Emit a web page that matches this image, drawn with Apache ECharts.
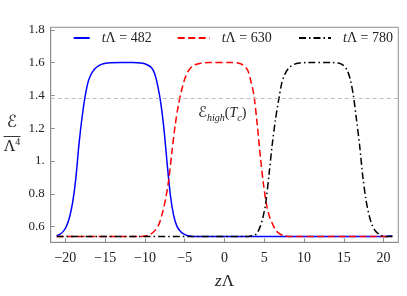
<!DOCTYPE html>
<html><head><meta charset="utf-8">
<script src="https://cdn.jsdelivr.net/npm/echarts@6/dist/echarts.min.js"></script>
<style>html,body{margin:0;padding:0;background:#fff}#c{width:407px;height:296px}</style>
</head><body><div id="c"></div>
<script>
const blueData = [[-21.1,0.545],[-20.7,0.553],[-20.3,0.570],[-19.9,0.600],[-19.5,0.655],[-19.1,0.745],[-18.7,0.89],[-18.3,1.10],[-17.9,1.27],[-17.5,1.40],[-17.1,1.49],[-16.7,1.535],[-16.3,1.563],[-15.8,1.582],[-15.1,1.594],[-14.3,1.599],[-13,1.6],[-11.5,1.6],[-10.5,1.597],[-9.8,1.588],[-9.2,1.57],[-8.8,1.535],[-8.4,1.46],[-8.0,1.35],[-7.6,1.19],[-7.2,0.98],[-6.8,0.79],[-6.4,0.67],[-6.0,0.605],[-5.6,0.575],[-5.2,0.558],[-4.6,0.545],[-4.0,0.541],[-3.0,0.54],[19.5,0.54],[20.3,0.541],[20.8,0.543],[21.1,0.545]];
const redData = [[-21.1,0.54],[-10.8,0.54],[-10.2,0.542],[-9.8,0.545],[-9.4,0.552],[-9.0,0.565],[-8.6,0.585],[-8.2,0.62],[-7.8,0.685],[-7.4,0.77],[-7.0,0.89],[-6.6,1.06],[-6.2,1.22],[-5.8,1.34],[-5.4,1.43],[-5.0,1.50],[-4.6,1.545],[-4.2,1.57],[-3.7,1.587],[-3.0,1.596],[-2.0,1.6],[1.0,1.6],[1.8,1.596],[2.4,1.583],[2.9,1.555],[3.3,1.49],[3.7,1.40],[4.1,1.23],[4.5,1.03],[4.9,0.86],[5.3,0.73],[5.7,0.655],[6.1,0.61],[6.5,0.575],[6.9,0.558],[7.4,0.546],[8.0,0.541],[9.0,0.54],[21.1,0.54]];
const blackData = [[-21.1,0.54],[2.5,0.54],[3.0,0.541],[3.5,0.545],[4.0,0.555],[4.4,0.59],[4.8,0.65],[5.2,0.75],[5.6,0.92],[6.0,1.10],[6.4,1.25],[6.8,1.37],[7.2,1.475],[7.6,1.53],[8.1,1.568],[8.7,1.588],[9.4,1.597],[10.5,1.6],[13.5,1.6],[14.3,1.597],[14.9,1.585],[15.4,1.555],[15.8,1.50],[16.2,1.40],[16.6,1.25],[17.0,1.09],[17.4,0.90],[17.8,0.76],[18.2,0.665],[18.6,0.605],[19.0,0.572],[19.4,0.555],[19.9,0.543],[20.5,0.54],[21.1,0.54]];
const seriesNames = ['482','630','780'];
const xTicks = [-20,-15,-10,-5,0,5,10,15,20];
const yTicks = [0.6,0.8,1.0,1.2,1.4,1.6,1.8];
const refLevel = 1.375;

const FONT = '"Liberation Serif","DejaVu Serif",serif';
const SCRIPT = '"DejaVu Sans","DejaVu Serif",serif';
const chart = echarts.init(document.getElementById('c'), null, {renderer:'canvas'});
const legendCommon = {
  orient:'horizontal', top:31, padding:0, itemHeight:14,
  itemStyle:{opacity:0},
  formatter: n => '{i|t}Λ = ' + n,
  textStyle:{fontFamily:FONT, fontSize:14, color:'#222', padding:[0,0,0,7],
    rich:{i:{fontFamily:FONT, fontSize:14, fontStyle:'italic', color:'#222'}}}
};
const option = {
  animation:false,
  backgroundColor:'#fff',
  grid:{left:50.7, top:27.3, width:347.6, height:215, show:true, borderColor:'#8c8c8c', borderWidth:1},
  legend:[
    Object.assign({}, legendCommon, {left:72.7, itemWidth:16, data:[seriesNames[0]]}),
    Object.assign({}, legendCommon, {left:176.7, itemWidth:32, data:[seriesNames[1]]}),
    Object.assign({}, legendCommon, {left:298, itemWidth:32, data:[seriesNames[2]]})
  ],
  xAxis:{type:'value', min:-21.85, max:21.85,
    axisLine:{show:true, onZero:false, lineStyle:{color:'#8c8c8c'}},
    axisTick:{show:true, inside:true, length:4, customValues:xTicks, lineStyle:{color:'#8c8c8c'}},
    axisLabel:{customValues:xTicks, margin:9, fontFamily:FONT, fontSize:14, color:'#222',
      formatter: v => String(v).replace('-', '−')},
    splitLine:{show:false}},
  yAxis:{type:'value', min:0.505, max:1.815,
    axisLine:{show:true, onZero:false, lineStyle:{color:'#8c8c8c'}},
    axisTick:{show:true, inside:true, length:4, customValues:yTicks, lineStyle:{color:'#8c8c8c'}},
    axisLabel:{customValues:yTicks, margin:6, fontFamily:FONT, fontSize:13, color:'#222',
      formatter: v => Math.abs(v-1)<1e-9 ? '1.' : v.toFixed(1)},
    splitLine:{show:false}},
  series:[
    {name:seriesNames[0], type:'line', data:blueData, showSymbol:false, symbol:'none', smooth:0.3,
     color:'#0000ff', lineStyle:{color:'#0000ff', width:1.5, type:'solid'},
     markLine:{silent:true, symbol:'none', label:{show:false},
       lineStyle:{color:'#b5b5b5', type:[4,3], width:0.9}, data:[{yAxis:refLevel}]}},
    {name:seriesNames[1], type:'line', data:redData, showSymbol:false, symbol:'none', smooth:0.3,
     color:'#ff0000', lineStyle:{color:'#ff0000', width:1.5, type:[7,3.5]}},
    {name:seriesNames[2], type:'line', data:blackData, showSymbol:false, symbol:'none', smooth:0.3,
     color:'#000000', lineStyle:{color:'#000000', width:1.5, type:[7,3,1.5,3]}}
  ],
  graphic:[
    {type:'text', left:198, top:106, style:{
      text:'{e|ℰ}{s|high}{n|(}{t|T}{s|c}{n|)}',
      rich:{
        e:{fontFamily:SCRIPT, fontSize:15, fill:'#222'},
        s:{fontFamily:FONT, fontSize:10, fontStyle:'italic', fill:'#222', padding:[9,0,0,0]},
        n:{fontFamily:FONT, fontSize:14, fill:'#222'},
        t:{fontFamily:FONT, fontSize:14, fontStyle:'italic', fill:'#222'}
      }}},
    {type:'text', x:12, y:123, style:{text:'ℰ', fontFamily:SCRIPT, fontSize:17, fill:'#222', align:'center', verticalAlign:'middle'}},
    {type:'line', shape:{x1:3.5, y1:136.5, x2:20.5, y2:136.5}, style:{stroke:'#222', lineWidth:0.9}},
    {type:'text', x:12, y:147, style:{text:'{a|Λ}{p|4}', align:'center', verticalAlign:'middle',
      rich:{a:{fontFamily:FONT, fontSize:16, fill:'#222'}, p:{fontFamily:FONT, fontSize:10, fill:'#222', padding:[0,0,9,0]}}}},
    {type:'text', x:224.5, y:282, style:{text:'{i|z}{n|Λ}', align:'center', verticalAlign:'middle',
      rich:{i:{fontFamily:FONT, fontSize:17, fontStyle:'italic', fill:'#222'}, n:{fontFamily:FONT, fontSize:17, fill:'#222'}}}}
  ]
};
chart.setOption(option);
</script></body></html>
